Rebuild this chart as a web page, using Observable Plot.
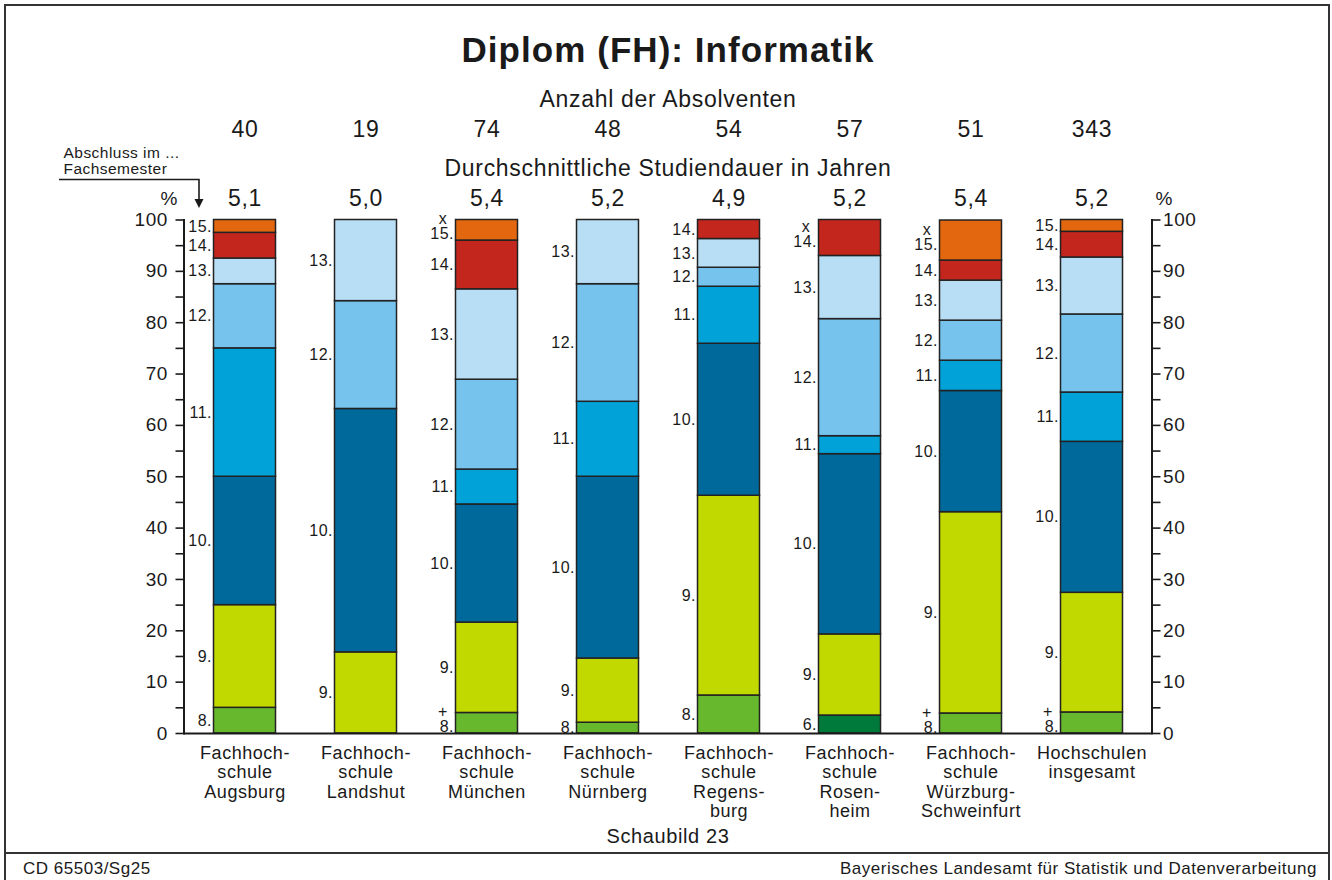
<!DOCTYPE html>
<html>
<head>
<meta charset="utf-8">
<script src="https://cdn.jsdelivr.net/npm/d3@7"></script>
<script src="https://cdn.jsdelivr.net/npm/@observablehq/plot@0.6"></script>
<style>
  html, body { margin: 0; padding: 0; width: 1332px; height: 880px; overflow: hidden; background: #fff; }
  #wrap { position: relative; width: 1332px; height: 880px; font-family: "Liberation Sans", Arial, Helvetica, sans-serif; color: #1a1a1a; }
  #chart { position: absolute; left: 0; top: 0; }
  #chart svg text { letter-spacing: 0.03em; }
  .box { position: absolute; left: 4px; top: 4px; width: 1326px; height: 920px; box-sizing: border-box; border: 2px solid #333; pointer-events: none; }
  .sep { position: absolute; left: 4px; top: 852px; width: 1326px; height: 2px; background: #333; }
  .foot { position: absolute; top: 858px; font-size: 17px; line-height: 21px; letter-spacing: 0.03em; white-space: nowrap; }
  #overlay { position: absolute; left: 0; top: 0; pointer-events: none; }
</style>
</head>
<body>
<div id="wrap">
  <div id="chart"></div>
  <svg id="overlay" width="1332" height="880">
    <path d="M59,179.5 H199 V200" fill="none" stroke="#1a1a1a" stroke-width="1.6"/>
    <path d="M194.5,199 L203.5,199 L199,208 Z" fill="#1a1a1a"/>
  </svg>
  <div class="box"></div>
  <div class="sep"></div>
  <div class="foot" style="left:23px;">CD 65503/Sg25</div>
  <div class="foot" style="right:15px;">Bayerisches Landesamt für Statistik und Datenverarbeitung</div>
</div>
<script>
// ---- data ----
const schools = ["Augsburg", "Landshut", "München", "Nürnberg", "Regensburg", "Rosenheim", "Würzburg-Schweinfurt", "insgesamt"];
const schoolLabels = [
  "Fachhoch-\nschule\nAugsburg",
  "Fachhoch-\nschule\nLandshut",
  "Fachhoch-\nschule\nMünchen",
  "Fachhoch-\nschule\nNürnberg",
  "Fachhoch-\nschule\nRegens-\nburg",
  "Fachhoch-\nschule\nRosen-\nheim",
  "Fachhoch-\nschule\nWürzburg-\nSchweinfurt",
  "Hochschulen\ninsgesamt"
];
const graduates = [40, 19, 74, 48, 54, 57, 51, 343];
const durations = ["5,1", "5,0", "5,4", "5,2", "4,9", "5,2", "5,4", "5,2"];

const semesters = [6, 8, 9, 10, 11, 12, 13, 14, 15];
const semesterColors = ["#007a3a", "#68b82e", "#c2d900", "#00699b", "#00a2d8", "#76c3ee", "#b8def5", "#c3261d", "#e2670f"];

// share of graduates (%) finishing in the given semester, per school
const share6  = [0,    0,    0,    0,    0,    3.5,  0,    0];
const share8  = [5.0,  0,    4.0,  2.1,  7.4,  0,    3.9,  4.1];
const share9  = [20.0, 15.8, 17.6, 12.5, 38.9, 15.8, 39.2, 23.3];
const share10 = [25.0, 47.4, 23.0, 35.4, 29.6, 35.1, 23.6, 29.4];
const share11 = [25.0, 0,    6.8,  14.6, 11.1, 3.5,  5.9,  9.6];
const share12 = [12.5, 21.0, 17.5, 22.9, 3.7,  22.8, 7.8,  15.2];
const share13 = [5.0,  15.8, 17.6, 12.5, 5.6,  12.3, 7.8,  11.1];
const share14 = [5.0,  0,    9.5,  0,    3.7,  7.0,  3.9,  5.0];
const share15 = [2.5,  0,    4.0,  0,    0,    0,    7.8,  2.3];
const shares = [share6, share8, share9, share10, share11, share12, share13, share14, share15];

// extra signs next to segment labels ("x" = higher semesters, "+" = lower semesters)
const higherSchools = ["München", "Rosenheim", "Würzburg-Schweinfurt"];
const higherSemester = [15, 14, 15];
const lowerSchools = ["München", "Würzburg-Schweinfurt", "insgesamt"];
const lowerSemester = [8, 8, 8];

// ---- table ----
const rows = [];
schools.forEach((school, i) => {
  semesters.forEach((sem, j) => {
    const v = shares[j][i];
    if (v > 0) {
      let sign = "";
      higherSchools.forEach((s, k) => { if (s === school && higherSemester[k] === sem) sign = "x"; });
      lowerSchools.forEach((s, k) => { if (s === school && lowerSemester[k] === sem) sign = "+"; });
      rows.push({school, semester: sem, share: v, sign});
    }
  });
});

const ink = "#1a1a1a";
const font = "'Liberation Sans', Arial, Helvetica, sans-serif";
const fiveTicks = d3.range(0, 101, 5);
const mid = {lineAnchor: "middle", fill: ink};

const chart = Plot.plot({
  width: 1332,
  height: 853,
  marginTop: 219.5,
  marginBottom: 120,
  marginLeft: 183.5,
  marginRight: 180.5,
  style: {fontFamily: font, color: ink, background: "transparent", overflow: "visible"},
  x: {domain: schools, padding: 0, axis: null, label: null},
  y: {domain: [0, 100], axis: null, label: null},
  color: {type: "ordinal", domain: semesters, range: semesterColors},
  marks: [
    Plot.barY(rows, Plot.stackY({
      x: "school", y: "share", fill: "semester",
      insetLeft: 29.5, insetRight: 29.5,
      stroke: "#222", strokeWidth: 1.5
    })),
    // segment labels
    Plot.text(rows, Plot.stackY({
      x: "school", y: "share", z: "semester",
      text: d => d.sign ? "" : d.semester + ".",
      textAnchor: "end", dx: -33, fontSize: 16, ...mid
    })),
    Plot.text(rows, Plot.stackY({
      x: "school", y: "share", z: "semester",
      text: d => d.sign ? d.semester + "." : "",
      textAnchor: "end", dx: -33, dy: 4, fontSize: 16, ...mid
    })),
    Plot.text(rows, Plot.stackY({
      x: "school", y: "share", z: "semester",
      text: d => d.sign,
      textAnchor: "middle", dx: -44, dy: -11, fontSize: 16, ...mid
    })),
    // axes
    Plot.ruleY([0], {stroke: ink, strokeWidth: 2}),
    Plot.frame({anchor: "left", stroke: ink, strokeWidth: 2}),
    Plot.frame({anchor: "right", stroke: ink, strokeWidth: 2}),
    Plot.axisY({anchor: "left", label: null, ticks: fiveTicks, tickFormat: d => d % 10 ? "" : d, tickSize: 8, tickPadding: 8, fontSize: 19, strokeWidth: 1.6, stroke: ink, fill: ink}),
    Plot.axisY({anchor: "right", label: null, ticks: fiveTicks, tickFormat: d => d % 10 ? "" : d, tickSize: 8, tickPadding: 3, fontSize: 19, strokeWidth: 1.6, stroke: ink, fill: ink}),
    Plot.axisX({label: null, tickSize: 0, tickPadding: 12, fontSize: 18, lineHeight: 1.07, fill: ink, tickFormat: s => schoolLabels[schools.indexOf(s)]}),
    Plot.text(["%"], {frameAnchor: "top-left", dx: -23.5, dy: -21, fontSize: 19, ...mid}),
    Plot.text(["%"], {frameAnchor: "top-right", dx: 21, dy: -21, fontSize: 19, ...mid}),
    // header numbers
    Plot.text(schools, {x: d => d, text: (d, i) => String(graduates[i]), frameAnchor: "top", dy: -90.5, fontSize: 23, ...mid}),
    Plot.text(schools, {x: d => d, text: (d, i) => durations[i], frameAnchor: "top", dy: -21.5, fontSize: 23, ...mid}),
    // titles
    Plot.text(["Diplom (FH): Informatik"], {frameAnchor: "top", dy: -169.5, fontSize: 35, fontWeight: "bold", ...mid}),
    Plot.text(["Anzahl der Absolventen"], {frameAnchor: "top", dy: -120.5, fontSize: 23, ...mid}),
    Plot.text(["Durchschnittliche Studiendauer in Jahren"], {frameAnchor: "top", dy: -51.5, fontSize: 23, ...mid}),
    Plot.text(["Abschluss im ..."], {frameAnchor: "top-left", textAnchor: "start", dx: -120.5, dy: -67, fontSize: 15.5, ...mid}),
    Plot.text(["Fachsemester"], {frameAnchor: "top-left", textAnchor: "start", dx: -120.5, dy: -50.5, fontSize: 15.5, ...mid}),
    Plot.text(["Schaubild 23"], {frameAnchor: "bottom", dy: 103.5, fontSize: 20, ...mid})
  ]
});
document.getElementById("chart").appendChild(chart);
</script>
</body>
</html>
